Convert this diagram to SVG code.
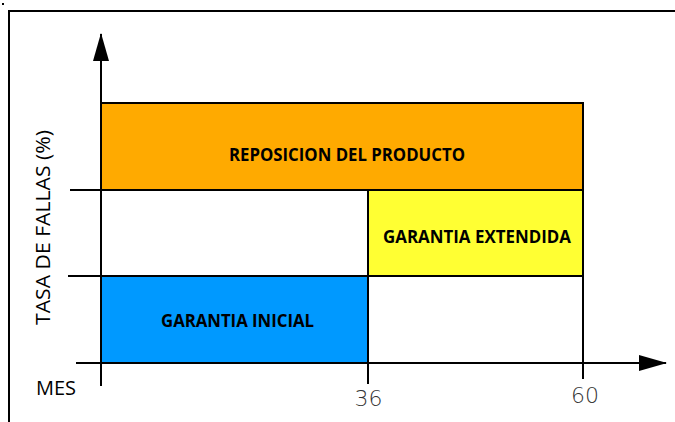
<svg xmlns="http://www.w3.org/2000/svg" width="675" height="422" viewBox="0 0 675 422">
<style>
.ln{stroke:#000;stroke-width:2;fill:none}
.box{stroke:#000;stroke-width:2}
.lbl{font-family:"Open Sans","Liberation Sans",sans-serif;font-weight:bold;font-size:17px;fill:#000;text-anchor:middle}
.ax{font-family:"Open Sans","Liberation Sans",sans-serif;font-size:20px;fill:#000}
.num{font-family:"DejaVu Sans","Liberation Sans",sans-serif;font-size:22px;font-weight:200;fill:#333;text-anchor:middle}
</style>
<defs>
<marker id="ah" viewBox="0 0 28 16" refX="27" refY="8" markerWidth="28" markerHeight="16" markerUnits="userSpaceOnUse" orient="auto">
<path d="M0,0 L28,8 L0,16 Z" fill="#000"/>
</marker>
</defs>
<rect x="0" y="0" width="675" height="422" fill="#fff"/>
<rect x="2" y="3" width="2" height="2" fill="#000"/>
<path d="M9,422 V11 H675" stroke="#000" stroke-width="2" fill="none"/>
<g id="reposicion">
<rect class="box" x="101" y="103" width="482" height="87" fill="#FFAA00"/>
<text class="lbl" x="347" y="161" textLength="236" lengthAdjust="spacingAndGlyphs">REPOSICION DEL PRODUCTO</text>
</g>
<g id="garantia-extendida">
<rect class="box" x="368" y="190" width="215" height="86" fill="#FFFF33"/>
<text class="lbl" x="477" y="243" textLength="188" lengthAdjust="spacingAndGlyphs">GARANTIA EXTENDIDA</text>
</g>
<g id="garantia-inicial">
<rect class="box" x="101" y="276" width="267" height="87" fill="#0099FF"/>
<text class="lbl" x="237.5" y="327" textLength="153" lengthAdjust="spacingAndGlyphs">GARANTIA INICIAL</text>
</g>
<g id="connectors">
<line class="ln" x1="101" y1="386" x2="101" y2="34" marker-end="url(#ah)"/>
<line class="ln" x1="76" y1="363" x2="666" y2="363" marker-end="url(#ah)"/>
<line class="ln" x1="70" y1="190" x2="583" y2="190"/>
<line class="ln" x1="68" y1="276" x2="583" y2="276"/>
<line class="ln" x1="368" y1="190" x2="368" y2="384"/>
<line class="ln" x1="583" y1="103" x2="583" y2="379"/>
</g>
<g id="labels">
<text class="ax" transform="translate(50,227.5) rotate(-90)" text-anchor="middle" textLength="195" lengthAdjust="spacingAndGlyphs">TASA DE FALLAS (%)</text>
<text class="ax" x="36" y="395">MES</text>
<text class="num" x="368.5" y="406">36</text>
<text class="num" x="585" y="403">60</text>
</g>
</svg>
